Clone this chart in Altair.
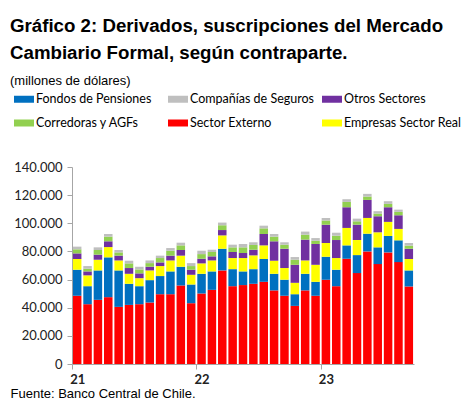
import altair as alt
import pandas as pd

meses = ["2021-01", "2021-02", "2021-03", "2021-04", "2021-05", "2021-06",
         "2021-07", "2021-08", "2021-09", "2021-10", "2021-11", "2021-12",
         "2022-01", "2022-02", "2022-03", "2022-04", "2022-05", "2022-06",
         "2022-07", "2022-08", "2022-09", "2022-10", "2022-11", "2022-12",
         "2023-01", "2023-02", "2023-03", "2023-04", "2023-05", "2023-06",
         "2023-07", "2023-08", "2023-09"]

externo = [48500, 42500, 45600, 47500, 40600, 42000, 42500, 43700, 49600, 49600, 55800, 43200,
           50100, 52700, 66500, 55300, 56100, 57000, 58400, 52300, 48500, 41300, 52300, 48500,
           59900, 55300, 74800, 64600, 80000, 71000, 79300, 72400, 55100]
fondos = [18500, 12800, 20900, 28300, 25900, 15000, 12800, 15900, 12900, 16200, 13300, 13300,
          14000, 13100, 15400, 12100, 9700, 10400, 16200, 11800, 11400, 8300, 11800, 9900,
          16300, 11700, 9500, 12800, 12600, 11900, 11700, 15500, 11400]
empresas = [7600, 7700, 7600, 7300, 7100, 7100, 5700, 6900, 7100, 7800, 7900, 6900,
            7400, 7800, 9500, 7900, 9500, 9800, 9700, 9300, 8300, 8100, 9500, 12100,
            9800, 8300, 12400, 10700, 11200, 10700, 10000, 8100, 8100]
otros = [4000, 2800, 3600, 4100, 3400, 4100, 3400, 2600, 2600, 3400, 4000, 3600,
         3300, 2900, 3800, 4300, 3600, 4000, 8100, 13800, 13700, 12800, 14800, 14800,
         13000, 12800, 14700, 10900, 12800, 11400, 10400, 9700, 7300]
corredoras = [2900, 1900, 3300, 3300, 2300, 3300, 2800, 2600, 3100, 3500, 3300, 2600,
              3300, 3100, 3400, 3300, 4000, 3400, 4000, 3300, 2900, 3600, 3500, 2300,
              2900, 3100, 3800, 2400, 2400, 1900, 2400, 2400, 2200]
seguros = [1900, 1900, 1900, 1900, 1700, 1900, 1900, 1900, 1700, 1900, 1900, 2100,
           2400, 1600, 1900, 1900, 2400, 1900, 1900, 1900, 1700, 1900, 2200, 1900,
           1900, 2100, 1900, 1900, 1900, 1700, 1900, 1600, 1900]

# stacking order (bottom -> top)
series = [
    ("Sector Externo", externo),
    ("Fondos de Pensiones", fondos),
    ("Empresas Sector Real", empresas),
    ("Otros Sectores", otros),
    ("Corredoras y AGFs", corredoras),
    ("Compañías de Seguros", seguros),
]
# legend grid fills column by column (2 rows x 3 columns)
legend_order = ["Fondos de Pensiones", "Corredoras y AGFs",
                "Compañías de Seguros", "Sector Externo",
                "Otros Sectores", "Empresas Sector Real"]
legend_colors = ["#0070C0", "#92D050", "#BFBFBF", "#FF0000", "#7030A0", "#FFFF00"]

rows = []
for k, (name, vals) in enumerate(series):
    for m, v in zip(meses, vals):
        rows.append({"mes": m, "sector": name, "valor": v, "orden": k})
df = pd.DataFrame(rows)

axis_gray = "#A6A6A6"
half_step = 342 / 33 / 2

chart = alt.Chart(df).mark_bar().encode(
    x=alt.X("mes:O", sort=meses,
            scale=alt.Scale(paddingInner=0.18, paddingOuter=0.09),
            axis=alt.Axis(values=["2021-01", "2022-01", "2023-01"],
                          labelExpr="substring(datum.value, 2, 4)",
                          labelAngle=0, tickOffset=-half_step, labelOffset=half_step,
                          domainColor=axis_gray, tickColor=axis_gray, tickSize=5,
                          labelFont="Lato", labelFontSize=13, labelFontWeight="bold",
                          labelColor="#222222", labelPadding=4,
                          title="Fuente: Banco Central de Chile.",
                          titleX=-62, titleY=29, titleAlign="left", titleBaseline="middle",
                          titleAngle=0, titleFont="Liberation Sans", titleFontSize=13,
                          titleFontWeight="normal", titleColor="#000000")),
    y=alt.Y("valor:Q", stack="zero",
            scale=alt.Scale(domain=[0, 140000], nice=False),
            axis=alt.Axis(values=[0, 20000, 40000, 60000, 80000, 100000, 120000, 140000],
                          labelExpr="replace(format(datum.value, ','), ',', '.')",
                          grid=False, domainColor=axis_gray, tickColor=axis_gray, tickSize=5,
                          labelFont="Lato", labelFontSize=13, labelColor="#222222",
                          labelPadding=5, title=None)),
    color=alt.Color("sector:N",
                    scale=alt.Scale(domain=legend_order, range=legend_colors),
                    legend=alt.Legend(orient="none", legendX=-58, legendY=-78,
                                      columns=3, gridAlign="all", title=None,
                                      symbolType="M-1,-0.35L1,-0.35L1,0.35L-1,0.35Z",
                                      symbolSize=400, symbolStrokeWidth=0,
                                      labelFont="Lato", labelFontSize=12.5,
                                      labelColor="#000000", labelOffset=2,
                                      columnPadding=7, rowPadding=7, padding=0)),
    order=alt.Order("orden:Q", sort="ascending"),
).properties(
    width=342,
    height=197,
    autosize=alt.AutoSizeParams(type="none"),
    padding={"left": 64, "top": 159, "right": 52, "bottom": 36},
    title=alt.TitleParams(
        text=["Gráfico 2: Derivados, suscripciones del Mercado",
              "Cambiario Formal, según contraparte."],
        subtitle="(millones de dólares)",
        anchor="start", frame="group", dx=-62, offset=1,
        font="Liberation Sans", fontSize=18.7, fontWeight="bold", lineHeight=27,
        color="#000000",
        subtitleFont="Liberation Sans", subtitleFontSize=13, subtitleColor="#000000",
        subtitlePadding=12),
).configure_view(stroke=None)

chart.save("out.html", embed_options={"renderer": "svg", "actions": False})
